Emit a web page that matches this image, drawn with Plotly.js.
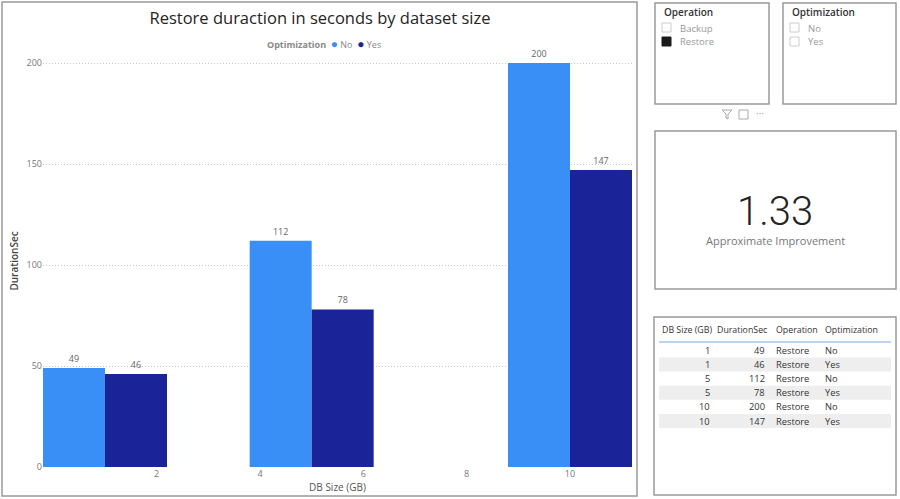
<!DOCTYPE html>
<html>
<head>
<meta charset="utf-8">
<script src="https://cdn.plot.ly/plotly-3.0.1.min.js"></script>
<style>
  html, body { margin: 0; padding: 0; background: #fff; }
  #chart { width: 900px; height: 499px; }
</style>
</head>
<body>
<div id="chart"></div>
<script>
var dbSizes = [1, 5, 10];
var durationNo = [49, 112, 200];
var durationYes = [46, 78, 147];
var seriesNames = ['No', 'Yes'];
var seriesColors = ['#3a8ff6', '#1b2399'];
var xTicks = [2, 4, 6, 8, 10];
var yTicks = [0, 50, 100, 150, 200];
var operations = ['Backup', 'Restore'];
var tableHeader = ['DB Size (GB)', 'DurationSec', 'Operation', 'Optimization'];

var W = 900, H = 499;
var FONT = 'Segoe UI, Open Sans, sans-serif';

function px(x) { return x / W; }
function py(y) { return 1 - y / H; }

function box(x0, y0, x1, y1, fill, lineColor, lw) {
    return {
        type: 'rect', xref: 'paper', yref: 'paper', layer: 'above',
        x0: px(x0), x1: px(x1), y0: py(y1), y1: py(y0),
        line: { color: lineColor || '#9a9a9a', width: lw === undefined ? 1.5 : lw },
        fillcolor: fill || 'rgba(0,0,0,0)'
    };
}

function label(x, y, text, size, color, anchor, weight) {
    return {
        xref: 'paper', yref: 'paper', x: px(x), y: py(y), text: String(text),
        showarrow: false, xanchor: anchor || 'left', yanchor: 'middle',
        font: { family: FONT, size: size, color: color, weight: weight || 'normal' }
    };
}

// bars
var traceNo = {
    type: 'bar', x: dbSizes, y: durationNo, name: seriesNames[0],
    width: 1.2, offset: -1.2, marker: { color: seriesColors[0] },
    text: durationNo.map(String), textposition: 'outside', cliponaxis: false,
    textfont: { family: FONT, size: 9, color: '#666' }, showlegend: false
};
var traceYes = {
    type: 'bar', x: dbSizes, y: durationYes, name: seriesNames[1],
    width: 1.2, offset: 0, marker: { color: seriesColors[1] },
    text: durationYes.map(String), textposition: 'outside', cliponaxis: false,
    textfont: { family: FONT, size: 9, color: '#666' }, showlegend: false
};

// table rows, one No and one Yes row per size
var colSize = [], colDur = [], colOp = [], colOpt = [];
dbSizes.forEach(function (s, i) {
    colSize.push(s, s);
    colDur.push(durationNo[i], durationYes[i]);
    colOp.push(operations[1], operations[1]);
    colOpt.push(seriesNames[0], seriesNames[1]);
});

// card value: total restore time without vs with optimization
var sum = function (a) { return a.reduce(function (p, c) { return p + c; }, 0); };
var improvement = (sum(durationNo) / sum(durationYes)).toFixed(2);

var shapes = [
    box(2, 2, 637, 496),
    box(655, 3, 769, 104),
    box(783, 3, 896, 104),
    box(655, 131, 896, 289),
    box(654, 317, 896, 495),
    // slicer checkboxes
    box(662, 23, 671, 32, '#ffffff', '#cccccc', 1),
    box(662, 37, 671, 46, '#1a1a1a', '#1a1a1a', 1),
    box(790, 23, 799, 32, '#ffffff', '#cccccc', 1),
    box(790, 37, 799, 46, '#ffffff', '#cccccc', 1),
    // header underline of table
    { type: 'line', xref: 'paper', yref: 'paper', x0: px(659), x1: px(891), y0: py(342), y1: py(342),
      line: { color: '#a6c6e8', width: 1.5 } },
    // filter icon
    { type: 'path', xref: 'paper', yref: 'paper',
      path: 'M ' + px(722) + ',' + py(110) + ' L ' + px(732) + ',' + py(110) + ' L ' + px(728) + ',' + py(114) +
            ' L ' + px(728) + ',' + py(119) + ' L ' + px(726) + ',' + py(118) + ' L ' + px(726) + ',' + py(114) + ' Z',
      line: { color: '#aaa', width: 1 } },
    // focus icon
    { type: 'rect', xref: 'paper', yref: 'paper', x0: px(739), x1: px(748), y0: py(119), y1: py(110),
      line: { color: '#aaa', width: 1 } }
];

var legendText = '<b>Optimization</b>  ' +
    '<span style="color:' + seriesColors[0] + ';font-size:12px">●</span> ' + seriesNames[0] + '  ' +
    '<span style="color:' + seriesColors[1] + ';font-size:12px">●</span> ' + seriesNames[1];

var annotations = [
    label(324, 44, legendText, 9, '#888', 'center'),
    label(662, 12, 'Operation', 10, '#333', 'left', 600),
    label(678, 28, operations[0], 9.5, '#999'),
    label(678, 42, operations[1], 9.5, '#999'),
    label(790, 12, 'Optimization', 10, '#333', 'left', 600),
    label(806, 28, seriesNames[0], 9.5, '#999'),
    label(806, 42, seriesNames[1], 9.5, '#999'),
    label(760, 113, '···', 10, '#aaa', 'center'),
    {
        xref: 'paper', yref: 'paper', x: px(775), y: py(211), text: improvement,
        showarrow: false, xanchor: 'center', yanchor: 'middle',
        font: { family: 'Roboto, sans-serif', size: 40, color: '#252423', weight: 300 }
    },
    label(775, 240, 'Approximate Improvement', 11, '#777', 'center')
];

// table drawn as text, header then rows
var colX = [714, 769, 774, 823];
var colAnchor = ['right', 'right', 'left', 'left'];
tableHeader.forEach(function (h, c) {
    annotations.push(label(colX[c], 330, h, 8.8, '#333', colAnchor[c]));
});
var cellX = [712, 767, 774, 823];
var cols = [colSize, colDur, colOp, colOpt];
colSize.forEach(function (v, r) {
    var yy = 350.5 + r * 14.1;
    if (r % 2 === 1) {
        shapes.push({ type: 'rect', xref: 'paper', yref: 'paper', layer: 'below',
            x0: px(659), x1: px(891), y0: py(yy + 7), y1: py(yy - 7),
            line: { width: 0 }, fillcolor: '#eeeeee' });
    }
    cols.forEach(function (col, c) {
        annotations.push(label(cellX[c], yy, col[r], 9.3, '#333', colAnchor[c]));
    });
});

var layout = {
    width: W, height: H,
    margin: { l: 0, r: 0, t: 0, b: 0 },
    paper_bgcolor: '#ffffff', plot_bgcolor: 'rgba(0,0,0,0)',
    font: { family: FONT, color: '#666' },
    barmode: 'overlay',
    showlegend: false,
    title: {
        text: 'Restore duraction in seconds by dataset size',
        x: px(320), xanchor: 'center', xref: 'paper',
        y: py(18), yanchor: 'middle', yref: 'paper',
        font: { family: FONT, size: 16.5, color: '#252423' }
    },
    xaxis: {
        domain: [px(43), px(632)], range: [-0.2, 11.2],
        tickvals: xTicks, ticktext: xTicks.map(String),
        showgrid: false, zeroline: false, showline: false, ticks: '',
        tickfont: { family: FONT, size: 9, color: '#777' },
        title: { text: 'DB Size (GB)', standoff: 4, font: { family: FONT, size: 10, color: '#555' } }
    },
    yaxis: {
        domain: [py(467), py(55)], range: [0, 204],
        tickvals: yTicks, ticktext: yTicks.map(String),
        showgrid: true, gridcolor: '#c8c8c8', griddash: '1px,2px', gridwidth: 1,
        zeroline: false, showline: false, ticks: '',
        tickfont: { family: FONT, size: 9, color: '#777' },
        title: { text: 'DurationSec', standoff: 6, font: { family: FONT, size: 10, color: '#444', weight: 600 } }
    },
    shapes: shapes,
    annotations: annotations
};

Plotly.newPlot('chart', [traceNo, traceYes], layout, { displayModeBar: false, staticPlot: true });
</script>
</body>
</html>
